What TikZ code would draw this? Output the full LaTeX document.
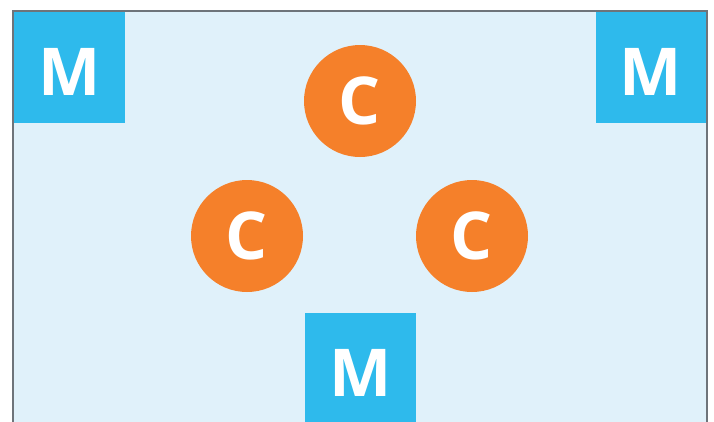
\documentclass[tikz,border=0pt]{standalone}
\usepackage{fontspec}
\setmainfont{Open Sans}
\usepackage{xcolor}
\usepackage{tikz}
\usetikzlibrary{positioning}
\definecolor{frame_gray}{RGB}{110,116,122}
\definecolor{field_blue}{RGB}{224,241,250}
\definecolor{m_blue}{RGB}{46,186,236}
\definecolor{c_orange}{RGB}{245,128,42}
\tikzset{
    tnode/.style = {align=center, inner sep=0pt, text centered, font=\fontsize{66}{66}\selectfont\bfseries},
    m_node/.style = {tnode, rectangle, white, fill=m_blue, minimum width=111pt, minimum height=111pt, text height=56pt, text depth=0pt},
    c_node/.style = {tnode, circle, white, fill=c_orange, minimum size=112pt}
}

\begin{document}
\begin{tikzpicture}[x=1pt,y=-1pt]
            \useasboundingbox (0,0) rectangle (714,421);
            \clip (0,0) rectangle (714,421);

            % field
            \fill [field_blue] (13,11) rectangle (707,440);

            % M squares
            \node [m_node] (m_left) at (69.5,67.5) {M};
            \node [m_node] (m_right) at (651,67.5) {M};
            \node [m_node] (m_bottom) at (360.5,368.5) {M};

            % C circles
            \node [c_node] (c_top) at (360,101) {C};
            \node [c_node] (c_left) at (247,236) {C};
            \node [c_node] (c_right) at (472,236) {C};

            % frame
            \draw [frame_gray, line width=2.5pt] (13,440) -- (13,11) -- (707,11) -- (707,440);
\end{tikzpicture}
\end{document}
